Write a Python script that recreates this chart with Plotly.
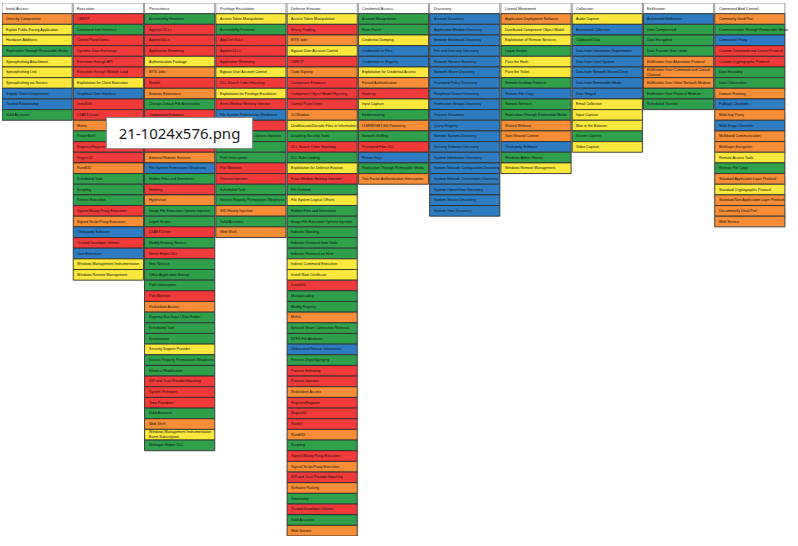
import plotly.graph_objects as go

# ATT&CK style matrix: one column per tactic, one coloured cell per technique
tactics = [
    "Initial Access", "Execution", "Persistence", "Privilege Escalation",
    "Defense Evasion", "Credential Access", "Discovery", "Lateral Movement",
    "Collection", "Exfiltration", "Command And Control",
]

initial_access = [
    "Drive-by Compromise", "Exploit Public-Facing Application", "Hardware Additions",
    "Replication Through Removable Media", "Spearphishing Attachment", "Spearphishing Link",
    "Spearphishing via Service", "Supply Chain Compromise", "Trusted Relationship",
    "Valid Accounts",
]
initial_access_levels = ["O", "Y", "Y", "G", "Y", "Y", "Y", "B", "B", "G"]

execution = [
    "CMSTP", "Command-Line Interface", "Control Panel Items", "Dynamic Data Exchange",
    "Execution through API", "Execution through Module Load",
    "Exploitation for Client Execution", "Graphical User Interface", "InstallUtil",
    "LSASS Driver", "Mshta", "PowerShell", "Regsvcs/Regasm", "Regsvr32", "Rundll32",
    "Scheduled Task", "Scripting", "Service Execution", "Signed Binary Proxy Execution",
    "Signed Script Proxy Execution", "Third-party Software", "Trusted Developer Utilities",
    "User Execution", "Windows Management Instrumentation", "Windows Remote Management",
]
execution_levels = [
    "R", "G", "R", "R", "R", "R", "Y", "B", "R", "R", "O", "G", "R", "R", "O",
    "G", "G", "G", "R", "O", "B", "R", "B", "Y", "Y",
]

persistence = [
    "Accessibility Features", "AppCert DLLs", "AppInit DLLs", "Application Shimming",
    "Authentication Package", "BITS Jobs", "Bootkit", "Browser Extensions",
    "Change Default File Association", "Component Firmware",
    "Component Object Model Hijacking", "Create Account", "DLL Search Order Hijacking",
    "External Remote Services", "File System Permissions Weakness",
    "Hidden Files and Directories", "Hooking", "Hypervisor",
    "Image File Execution Options Injection", "Logon Scripts", "LSASS Driver",
    "Modify Existing Service", "Netsh Helper DLL", "New Service",
    "Office Application Startup", "Path Interception", "Port Monitors",
    "Redundant Access", "Registry Run Keys / Start Folder", "Scheduled Task",
    "Screensaver", "Security Support Provider", "Service Registry Permissions Weakness",
    "Shortcut Modification", "SIP and Trust Provider Hijacking", "System Firmware",
    "Time Providers", "Valid Accounts", "Web Shell",
    "Windows Management Instrumentation<br>Event Subscription", "Winlogon Helper DLL",
]
persistence_levels = [
    "G", "R", "R", "R", "Y", "O", "R", "O", "G", "R",
    "R", "G", "R", "O", "B", "G", "R", "O", "G", "G",
    "R", "G", "R", "G", "G", "G", "R", "O", "G", "G",
    "G", "Y", "G", "G", "R", "R", "R", "G", "O", "Y", "G",
]

privilege_escalation = [
    "Access Token Manipulation", "Accessibility Features", "AppCert DLLs", "AppInit DLLs",
    "Application Shimming", "Bypass User Account Control", "DLL Search Order Hijacking",
    "Exploitation for Privilege Escalation", "Extra Window Memory Injection",
    "File System Permissions Weakness", "Hooking", "Image File Execution Options Injection",
    "New Service", "Path Interception", "Port Monitors", "Process Injection",
    "Scheduled Task", "Service Registry Permissions Weakness", "SID-History Injection",
    "Valid Accounts", "Web Shell",
]
privilege_escalation_levels = [
    "Y", "G", "R", "R", "R", "Y", "R", "Y", "R", "B", "R",
    "G", "G", "G", "R", "R", "G", "G", "O", "G", "O",
]

defense_evasion = [
    "Access Token Manipulation", "Binary Padding", "BITS Jobs",
    "Bypass User Account Control", "CMSTP", "Code Signing", "Component Firmware",
    "Component Object Model Hijacking", "Control Panel Items", "DCShadow",
    "Deobfuscate/Decode Files or Information", "Disabling Security Tools",
    "DLL Search Order Hijacking", "DLL Side-Loading", "Exploitation for Defense Evasion",
    "Extra Window Memory Injection", "File Deletion", "File System Logical Offsets",
    "Hidden Files and Directories", "Image File Execution Options Injection",
    "Indicator Blocking", "Indicator Removal from Tools", "Indicator Removal on Host",
    "Indirect Command Execution", "Install Root Certificate", "InstallUtil",
    "Masquerading", "Modify Registry", "Mshta", "Network Share Connection Removal",
    "NTFS File Attributes", "Obfuscated Files or Information", "Process Doppelgänging",
    "Process Hollowing", "Process Injection", "Redundant Access", "Regsvcs/Regasm",
    "Regsvr32", "Rootkit", "Rundll32", "Scripting", "Signed Binary Proxy Execution",
    "Signed Script Proxy Execution", "SIP and Trust Provider Hijacking",
    "Software Packing", "Timestomp", "Trusted Developer Utilities", "Valid Accounts",
    "Web Service",
]
defense_evasion_levels = [
    "Y", "R", "O", "Y", "R", "O", "R", "R", "R", "O",
    "Y", "G", "R", "G", "Y", "R", "G", "Y", "G", "G",
    "G", "G", "G", "Y", "Y", "R", "G", "G", "O", "G",
    "G", "B", "G", "R", "R", "O", "R", "R", "R", "O",
    "G", "R", "O", "R", "O", "G", "R", "G", "O",
]

credential_access = [
    "Account Manipulation", "Brute Force", "Credential Dumping", "Credentials in Files",
    "Credentials in Registry", "Exploitation for Credential Access",
    "Forced Authentication", "Hooking", "Input Capture", "Kerberoasting",
    "LLMNR/NBT-NS Poisoning", "Network Sniffing", "Password Filter DLL", "Private Keys",
    "Replication Through Removable Media", "Two-Factor Authentication Interception",
]
credential_access_levels = [
    "G", "G", "Y", "B", "B", "Y", "O", "R", "Y", "G", "O", "G", "R", "B", "G", "O",
]

discovery = [
    "Account Discovery", "Application Window Discovery", "Browser Bookmark Discovery",
    "File and Directory Discovery", "Network Service Scanning", "Network Share Discovery",
    "Password Policy Discovery", "Peripheral Device Discovery",
    "Permission Groups Discovery", "Process Discovery", "Query Registry",
    "Remote System Discovery", "Security Software Discovery",
    "System Information Discovery", "System Network Configuration Discovery",
    "System Network Connections Discovery", "System Owner/User Discovery",
    "System Service Discovery", "System Time Discovery",
]
discovery_levels = ["B"] * 19

lateral_movement = [
    "Application Deployment Software", "Distributed Component Object Model",
    "Exploitation of Remote Services", "Logon Scripts", "Pass the Hash", "Pass the Ticket",
    "Remote Desktop Protocol", "Remote File Copy", "Remote Services",
    "Replication Through Removable Media", "Shared Webroot", "Taint Shared Content",
    "Third-party Software", "Windows Admin Shares", "Windows Remote Management",
]
lateral_movement_levels = ["O", "Y", "Y", "G", "Y", "Y", "G", "B", "G", "G", "O", "O", "B", "G", "Y"]

collection = [
    "Audio Capture", "Automated Collection", "Clipboard Data",
    "Data from Information Repositories", "Data from Local System",
    "Data from Network Shared Drive", "Data from Removable Media", "Data Staged",
    "Email Collection", "Input Capture", "Man in the Browser", "Screen Capture",
    "Video Capture",
]
collection_levels = ["Y", "B", "G", "B", "B", "B", "B", "B", "Y", "Y", "Y", "G", "Y"]

exfiltration = [
    "Automated Exfiltration", "Data Compressed", "Data Encrypted",
    "Data Transfer Size Limits", "Exfiltration Over Alternative Protocol",
    "Exfiltration Over Command and Control<br>Channel",
    "Exfiltration Over Other Network Medium", "Exfiltration Over Physical Medium",
    "Scheduled Transfer",
]
exfiltration_levels = ["B", "G", "G", "G", "O", "O", "O", "G", "G"]

command_and_control = [
    "Commonly Used Port", "Communication Through Removable Media", "Connection Proxy",
    "Custom Command and Control Protocol", "Custom Cryptographic Protocol",
    "Data Encoding", "Data Obfuscation", "Domain Fronting", "Fallback Channels",
    "Multi-hop Proxy", "Multi-Stage Channels", "Multiband Communication",
    "Multilayer Encryption", "Remote Access Tools", "Remote File Copy",
    "Standard Application Layer Protocol", "Standard Cryptographic Protocol",
    "Standard Non-Application Layer Protocol", "Uncommonly Used Port", "Web Service",
]
command_and_control_levels = [
    "O", "G", "B", "R", "R", "G", "G", "O", "B", "O",
    "B", "O", "O", "Y", "G", "O", "Y", "O", "O", "O",
]

columns = [
    initial_access, execution, persistence, privilege_escalation, defense_evasion,
    credential_access, discovery, lateral_movement, collection, exfiltration,
    command_and_control,
]
column_levels = [
    initial_access_levels, execution_levels, persistence_levels,
    privilege_escalation_levels, defense_evasion_levels, credential_access_levels,
    discovery_levels, lateral_movement_levels, collection_levels, exfiltration_levels,
    command_and_control_levels,
]

palette = {
    "R": "#F23A3A",
    "O": "#F78E35",
    "Y": "#FAE83C",
    "G": "#2FA04B",
    "B": "#2E7DC2",
}

font_family = "Liberation Sans, Arial, sans-serif"
text_size = 3.6

bases, rows, texts, colors = [], [], [], []
for col, (names, levels) in enumerate(zip(columns, column_levels)):
    for row, (name, level) in enumerate(zip(names, levels), start=1):
        bases.append(col)
        rows.append(row)
        texts.append(name)
        colors.append(palette[level])

fig = go.Figure()

# header row
fig.add_trace(go.Bar(
    orientation="h",
    x=[0.985] * len(tactics),
    base=list(range(len(tactics))),
    y=[0] * len(tactics),
    width=1,
    marker={"color": "white", "line": {"color": "#9a9a9a", "width": 1}},
    hoverinfo="text",
    hovertext=tactics,
))

# technique cells
fig.add_trace(go.Bar(
    orientation="h",
    x=[0.985] * len(texts),
    base=bases,
    y=rows,
    width=1,
    marker={"color": colors, "line": {"color": "#303030", "width": 0.9}},
    hoverinfo="text",
    hovertext=texts,
))

# cell labels, left aligned inside each cell
for col, name in enumerate(tactics):
    fig.add_annotation(
        x=col, y=0, text=name, xanchor="left", xshift=2, align="left",
        showarrow=False, font={"size": text_size + 0.3, "color": "#222", "family": font_family},
    )
for col, row, name in zip(bases, rows, texts):
    fig.add_annotation(
        x=col, y=row, text=name, xanchor="left", xshift=2, align="left",
        showarrow=False, font={"size": text_size, "color": "#111", "family": font_family},
    )

# image viewer tooltip that sits over the screenshot
fig.add_annotation(
    xref="paper", yref="paper",
    x=0.1327, y=0.786,
    xanchor="left", yanchor="top",
    text="21-1024x576.png",
    showarrow=False,
    font={"size": 15, "color": "#1a1a1a", "family": "Noto Sans, sans-serif"},
    bgcolor="white",
    bordercolor="#8c8c8c",
    borderwidth=1,
    borderpad=5,
    width=135,
    height=20,
)

fig.update_xaxes(visible=False, range=[0, 11], fixedrange=True)
fig.update_yaxes(visible=False, range=[49.5, -0.5], fixedrange=True)
fig.update_layout(
    width=798,
    height=546,
    barmode="overlay",
    showlegend=False,
    plot_bgcolor="white",
    paper_bgcolor="white",
    margin={"l": 2, "r": 12, "t": 3, "b": 10},
)

fig.write_html(
    "out.html",
    config={"displayModeBar": False},
    post_script="document.body.style.margin='0';document.body.style.overflow='hidden';",
)
